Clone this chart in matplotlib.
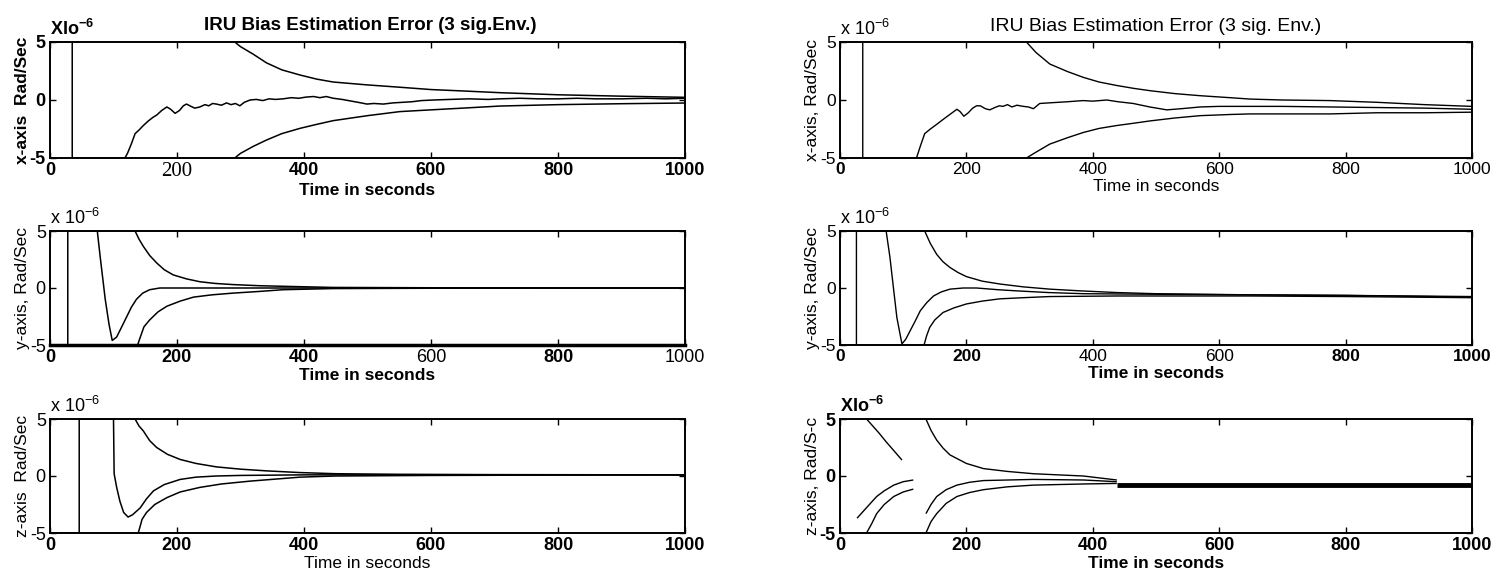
import matplotlib
matplotlib.use('Agg')
import matplotlib.pyplot as plt

plt.rcParams['font.family'] = ['Liberation Sans', 'DejaVu Sans']
plt.rcParams['axes.unicode_minus'] = False
plt.rcParams['mathtext.default'] = 'regular'

# values in units of 1e-6 rad/sec, time in seconds; lists of (t, value)
LX_EST = [(0, 5), (35, 5), (35, -5), (118, -5), (122, -4.6), (128, -3.8), (134, -2.9), (140, -2.6),
          (147, -2.2), (155, -1.8), (162, -1.5), (168, -1.3), (176, -0.9), (184, -0.6), (190, -0.8),
          (197, -1.15), (204, -0.9), (210, -0.5), (215, -0.35), (222, -0.55), (228, -0.7), (236, -0.6),
          (244, -0.4), (250, -0.5), (256, -0.3), (262, -0.35), (270, -0.45), (278, -0.25), (285, -0.4),
          (292, -0.3), (299, -0.5), (306, -0.2), (315, 0), (325, 0.05), (335, -0.05), (345, 0.1),
          (355, 0.05), (367, 0.1), (380, 0.2), (392, 0.15), (403, 0.25), (415, 0.3), (425, 0.2),
          (435, 0.3), (446, 0.15), (460, 0.05), (475, -0.1), (490, -0.25), (499, -0.35), (510, -0.3),
          (525, -0.35), (540, -0.25), (555, -0.2), (570, -0.15), (585, -0.05), (604, 0), (630, 0.05),
          (660, 0.1), (690, 0.05), (709, 0.1), (740, 0.15), (770, 0.1), (800, 0.1), (830, 0.15),
          (860, 0.1), (900, 0.1), (940, 0.15), (970, 0.1), (1000, 0.15)]
LX_UP = [(291, 5), (300, 4.6), (320, 3.95), (341, 3.2), (365, 2.6), (394, 2.15), (420, 1.8),
         (446, 1.55), (500, 1.3), (551, 1.1), (600, 0.9), (650, 0.78), (709, 0.63), (800, 0.45),
         (900, 0.33), (1000, 0.23)]
LX_LO = [(291, -5), (300, -4.6), (320, -4.0), (341, -3.45), (365, -2.9), (394, -2.44), (420, -2.1),
         (446, -1.78), (500, -1.35), (551, -1.0), (600, -0.85), (650, -0.7), (709, -0.52), (800, -0.4),
         (900, -0.32), (1000, -0.26)]

RX_EST = [(0, 5), (36, 5), (36, -5), (121, -5), (127, -4.0), (134, -2.9), (143, -2.5), (153, -2.1),
          (165, -1.6), (175, -1.2), (185, -0.8), (190, -1.0), (196, -1.4), (203, -1.1), (210, -0.7),
          (216, -0.5), (222, -0.5), (230, -0.75), (237, -0.85), (245, -0.65), (252, -0.5), (258, -0.55),
          (265, -0.4), (272, -0.6), (280, -0.45), (290, -0.55), (298, -0.6), (306, -0.75), (316, -0.3),
          (330, -0.25), (345, -0.2), (360, -0.15), (385, -0.05), (400, -0.1), (422, 0), (440, -0.15),
          (464, -0.3), (490, -0.6), (517, -0.85), (540, -0.75), (570, -0.6), (600, -0.55), (649, -0.55),
          (700, -0.55), (775, -0.6), (850, -0.65), (925, -0.7), (1000, -0.8)]
RX_UP = [(295, 5), (310, 4.1), (332, 3.1), (360, 2.45), (385, 1.95), (410, 1.55), (438, 1.25),
         (465, 1.0), (491, 0.8), (530, 0.55), (570, 0.37), (617, 0.2), (649, 0.08), (700, 0.0),
         (775, -0.05), (850, -0.2), (925, -0.4), (1000, -0.55)]
RX_LO = [(295, -5), (310, -4.5), (332, -3.8), (360, -3.25), (385, -2.8), (410, -2.45), (438, -2.2),
         (465, -2.0), (491, -1.8), (530, -1.55), (570, -1.35), (617, -1.25), (649, -1.2), (700, -1.2),
         (775, -1.2), (850, -1.1), (925, -1.1), (1000, -1.05)]

LY_EST = [(0, -5), (28, -5), (28, 5), (74.5, 5), (79, 2.75), (87, -1.0), (93, -3.2), (98, -4.6),
          (105, -4.3), (113, -3.4), (121, -2.5), (128, -1.7), (136, -1.0), (146, -0.45), (157, -0.15),
          (173, 0.0), (250, 0.0), (400, 0.0), (600, 0.0), (800, 0.0), (1000, 0.0)]
LY_UP = [(134, 5), (140, 4.3), (147, 3.65), (157, 2.85), (168, 2.2), (180, 1.6), (194, 1.15),
         (215, 0.8), (236, 0.55), (260, 0.4), (288, 0.3), (330, 0.2), (367, 0.15), (446, 0.05),
         (600, 0.02), (800, 0.0), (1000, 0.0)]
LY_LO = [(138, -5), (141, -4.5), (148, -3.4), (157, -2.8), (170, -2.1), (184, -1.6), (205, -1.15),
         (226, -0.8), (255, -0.6), (288, -0.45), (330, -0.3), (367, -0.15), (446, -0.05),
         (600, -0.02), (800, 0.0), (1000, 0.0)]

RY_EST = [(0, -5), (26, -5), (26, 5), (73, 5), (79, 2.7), (85, -0.2), (90, -2.6), (98, -4.9),
          (104, -4.5), (111, -3.75), (119, -2.9), (127, -2.0), (137, -1.3), (148, -0.7), (160, -0.35),
          (174, -0.1), (195, 0.0), (216, 0.0), (250, -0.15), (279, -0.25), (330, -0.4), (385, -0.5),
          (500, -0.55), (649, -0.6), (800, -0.65), (1000, -0.8)]
RY_UP = [(134, 5), (143, 3.9), (153, 2.95), (163, 2.3), (174, 1.8), (187, 1.35), (200, 1.0),
         (225, 0.6), (253, 0.35), (290, 0.1), (332, -0.1), (380, -0.25), (438, -0.4), (500, -0.5),
         (649, -0.6), (800, -0.65), (1000, -0.75)]
RY_LO = [(133, -5), (137, -4.2), (142, -3.45), (150, -2.8), (163, -2.15), (180, -1.75), (200, -1.4),
         (225, -1.15), (253, -0.95), (290, -0.85), (332, -0.75), (438, -0.7), (649, -0.7),
         (800, -0.75), (1000, -0.85)]

LZ_EST = [(0, -5), (46, -5), (46, 5), (100, 5), (101, 0.2), (105, -1.0), (110, -2.2), (116, -3.2),
          (123, -3.6), (130, -3.4), (142, -2.8), (152, -2.0), (163, -1.3), (180, -0.75), (205, -0.3),
          (230, -0.1), (262, 0.0), (300, 0.05), (400, 0.1), (600, 0.1), (800, 0.1), (1000, 0.1)]
LZ_UP = [(134, 5), (140, 4.4), (147, 3.95), (157, 3.1), (168, 2.5), (185, 1.9), (205, 1.45),
         (230, 1.1), (262, 0.8), (300, 0.6), (341, 0.45), (394, 0.3), (450, 0.2), (550, 0.15),
         (700, 0.12), (1000, 0.1)]
LZ_LO = [(139, -5), (145, -3.8), (152, -3.2), (165, -2.5), (184, -1.9), (205, -1.4), (236, -1.0),
         (270, -0.7), (315, -0.45), (360, -0.25), (394, -0.1), (450, 0.0), (600, 0.05), (800, 0.08),
         (1000, 0.1)]

RZ_UP1 = [(42, 5), (50, 4.5), (62, 3.75), (73, 3.0), (84, 2.3), (98, 1.4)]
RZ_EST1 = [(27, -3.7), (40, -2.9), (58, -1.8), (70, -1.3), (85, -0.8), (100, -0.5), (116, -0.35)]
RZ_LO1 = [(42, -5), (50, -4.2), (58, -3.3), (70, -2.5), (85, -1.8), (100, -1.4), (116, -1.15)]
RZ_UP2 = [(136, 5), (144, 4.0), (153, 3.15), (163, 2.45), (174, 1.85), (200, 1.1), (227, 0.65),
          (265, 0.4), (306, 0.2), (345, 0.1), (385, 0.0), (438, -0.35)]
RZ_EST2 = [(136, -3.3), (144, -2.5), (153, -1.8), (168, -1.2), (185, -0.8), (205, -0.55),
           (227, -0.4), (306, -0.3), (385, -0.35), (438, -0.5)]
RZ_LO2 = [(136, -5), (144, -4.0), (153, -3.3), (168, -2.4), (185, -1.8), (205, -1.45), (227, -1.2),
          (265, -0.95), (306, -0.8), (385, -0.7), (438, -0.65)]
RZ_EST3 = [(438, -0.8), (1000, -0.8)]

XTICKS = [0, 200, 400, 600, 800, 1000]
YTICKS = [-5, 0, 5]
TITLE_L = 'IRU Bias Estimation Error (3 sig.Env.)'
TITLE_R = 'IRU Bias Estimation Error (3 sig. Env.)'

fig = plt.figure(figsize=(14.97, 5.82), dpi=100)

W = 1497.0
H = 582.0
cols = [(50, 635), (840, 632)]
rows = [(42, 158), (231, 345), (419, 533)]


def make_ax(col, row):
    x0, w = cols[col]
    top, bot = rows[row]
    ax = fig.add_axes([x0 / W, 1 - bot / H, w / W, (bot - top) / H])
    ax.set_xlim(0, 1000)
    ax.set_ylim(-5, 5)
    ax.set_xticks(XTICKS)
    ax.set_yticks(YTICKS)
    ax.tick_params(direction='in', length=4, width=1, top=True, right=True, pad=3)
    for s in ax.spines.values():
        s.set_linewidth(1.4)
    return ax


def draw(ax, series, lw=1.1):
    for pts in series:
        t, y = zip(*pts)
        ax.plot(t, y, color='black', lw=lw, solid_capstyle='butt')


def style_ticks(ax, xweights, yweight, size=13):
    for lab, wgt in zip(ax.get_xticklabels(), xweights):
        lab.set_fontsize(size)
        lab.set_fontweight(wgt)
    for lab in ax.get_yticklabels():
        lab.set_fontsize(size)
        lab.set_fontweight(yweight)


def scale_text(ax, txt, weight):
    ax.text(0.0, 1.03, txt, transform=ax.transAxes, ha='left', va='bottom',
            fontsize=13, fontweight=weight)


B = 'bold'
N = 'normal'

# left column
ax = make_ax(0, 0)
draw(ax, [LX_UP, LX_EST, LX_LO])
style_ticks(ax, [B, N, B, B, B, B], B)
ax.get_xticklabels()[1].set_family('Liberation Serif')
ax.get_xticklabels()[1].set_fontsize(15)
ax.set_title(TITLE_L, fontsize=13.5, fontweight='bold', pad=9, x=0.505)
ax.set_xlabel('Time in seconds', fontsize=12.5, fontweight='bold', labelpad=1)
ax.set_ylabel('x-axis  Rad/Sec', fontsize=12.5, fontweight='bold', labelpad=0)
scale_text(ax, 'XIo$^{-6}$', B)

ax = make_ax(0, 1)
draw(ax, [LY_UP, LY_EST, LY_LO])
ax.spines['bottom'].set_linewidth(2.5)
style_ticks(ax, [B, B, B, N, B, N], N)
ax.set_xlabel('Time in seconds', fontsize=12.5, fontweight='bold', labelpad=1)
ax.set_ylabel('y-axis, Rad/Sec', fontsize=12.5, labelpad=0)
scale_text(ax, 'x 10$^{-6}$', N)

ax = make_ax(0, 2)
draw(ax, [LZ_UP, LZ_EST, LZ_LO])
style_ticks(ax, [B, B, B, B, B, B], N)
ax.set_xlabel('Time in seconds', fontsize=12.5, labelpad=1)
ax.set_ylabel('z-axis  Rad/Sec', fontsize=12.5, labelpad=0)
scale_text(ax, 'x 10$^{-6}$', N)

# right column
ax = make_ax(1, 0)
draw(ax, [RX_UP, RX_EST, RX_LO], lw=1.0)
style_ticks(ax, [B, N, N, N, N, N], N, size=12.5)
ax.set_title(TITLE_R, fontsize=14, pad=8)
ax.set_xlabel('Time in seconds', fontsize=12.5, labelpad=1)
ax.set_ylabel('x-axis, Rad/Sec', fontsize=12.5, labelpad=0)
scale_text(ax, 'x 10$^{-6}$', N)

ax = make_ax(1, 1)
draw(ax, [RY_UP, RY_EST, RY_LO], lw=1.0)
style_ticks(ax, [B, B, N, N, B, B], N, size=12.5)
ax.set_xlabel('Time in seconds', fontsize=12.5, fontweight='bold', labelpad=1)
ax.set_ylabel('y-axis, Rad/Sec', fontsize=12.5, labelpad=0)
scale_text(ax, 'x 10$^{-6}$', N)

ax = make_ax(1, 2)
draw(ax, [RZ_UP1, RZ_EST1, RZ_LO1, RZ_UP2, RZ_EST2, RZ_LO2], lw=1.0)
draw(ax, [RZ_EST3], lw=3.5)
style_ticks(ax, [B, B, B, B, B, B], B, size=13)
ax.set_xlabel('Time in seconds', fontsize=12.5, fontweight='bold', labelpad=1)
ax.set_ylabel('z-axis, Rad/S-c', fontsize=12.5, labelpad=0)
scale_text(ax, 'XIo$^{-6}$', B)

fig.savefig('out.png', dpi=100)
